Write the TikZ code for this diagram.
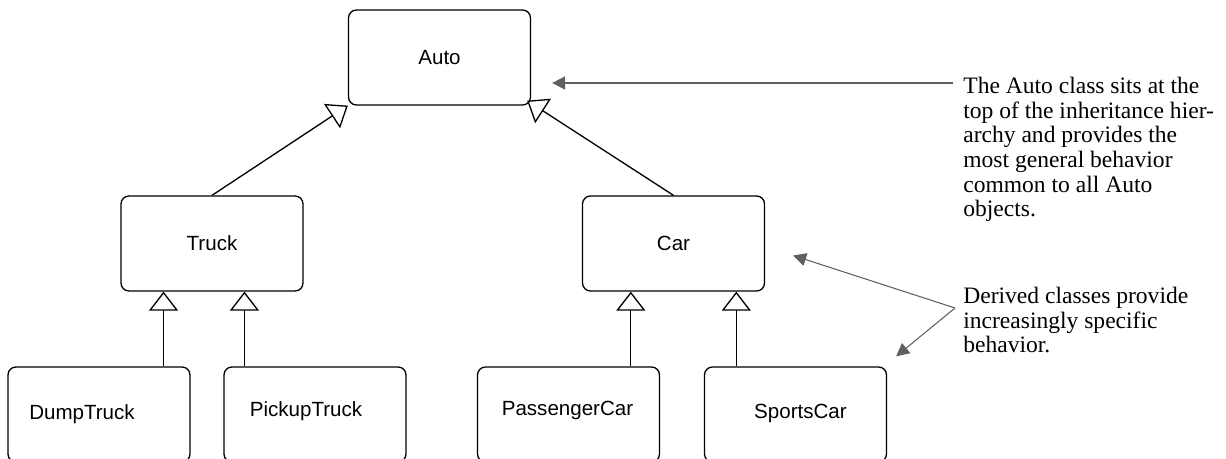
\documentclass[tikz,border=0pt]{standalone}
\usepackage{fontspec}
\setmainfont{Liberation Serif}
\setsansfont{Liberation Sans}
\usetikzlibrary{arrows.meta,calc}
\definecolor{notegray}{HTML}{606060}

\begin{document}
\begin{tikzpicture}[x=0.02cm,y=-0.02cm]
	
	% ------------------------------------------------------------
	% Styles (plain class boxes, hollow inheritance tips, gray notes)
	% ------------------------------------------------------------
	\tikzset{
		cls/.style={draw=black,line width=0.75pt,rounded corners=4.5pt,
			minimum width=3.64cm,minimum height=1.9cm,inner sep=0pt,
			font=\sffamily\fontsize{11.7}{14}\selectfont},
		clsname/.style={inner sep=0pt,font=\sffamily\fontsize{11.7}{14}\selectfont},
		isa/.style={-{Triangle[open,length=0.38cm,width=0.58cm]},line width=0.75pt},
		note/.style={align=left,inner sep=0pt,anchor=north west,
			font=\rmfamily\fontsize{13.4}{14}\selectfont},
		pointer/.style={-{Triangle[length=0.26cm,width=0.26cm]},color=notegray,line width=1pt},
		thinpointer/.style={pointer,line width=0.6pt}
	}
	
	% Picture frame (bottom row runs off the page)
	\useasboundingbox (0,0) rectangle (1226,459);
	\clip (0,0) rectangle (1226,459);
	
	% ============================================================
	% TOP: base class
	% ============================================================
	\node[cls] (auto) at (439.5,57.5) {Auto};
	
	% ============================================================
	% MIDDLE: Truck and Car
	% ============================================================
	\node[cls] (truck) at (212,243.5) {Truck};
	\node[cls] (car)   at (673.5,243.5) {Car};
	
	\draw[isa] (truck.north) -- (auto.south west);
	\draw[isa] (car.north) -- ($(auto.south east)+(-4,-5)$);
	
	% ============================================================
	% BOTTOM: leaf classes (labels sit a bit off centre)
	% ============================================================
	\node[cls] (dump)      at (99,414.5) {};
	\node[cls] (pickup)    at (315,414.5) {};
	\node[cls] (passenger) at (568.5,414.5) {};
	\node[cls] (sports)    at (795.5,414.5) {};
	
	\node[clsname] (dumpL)      at ($(dump)+(-17,0)$) {DumpTruck};
	\node[clsname] (pickupL)    at ($(pickup)+(-9,-3)$) {PickupTruck};
	\node[clsname] (passengerL) at ($(passenger)+(-1,-4)$) {PassengerCar};
	\node[clsname] (sportsL)    at ($(sports)+(5,-1)$) {SportsCar};
	
	% Where the inheritance lines leave the leaf boxes
	\coordinate (dumpTop)      at ($(dump.north west)!0.852!(dump.north east)$);
	\coordinate (pickupTop)    at ($(pickup.north west)!0.115!(pickup.north east)$);
	\coordinate (passengerTop) at ($(passenger.north west)!0.84!(passenger.north east)$);
	\coordinate (sportsTop)    at ($(sports.north west)!0.177!(sports.north east)$);
	
	\draw[isa] (dumpTop) -- (dumpTop |- truck.south);
	\draw[isa] (pickupTop) -- (pickupTop |- truck.south);
	\draw[isa] (passengerTop) -- (passengerTop |- car.south);
	\draw[isa] (sportsTop) -- (sportsTop |- car.south);
	
	% ============================================================
	% RIGHT: notes with gray pointers
	% ============================================================
	\node[note] (topNote) at (963,77)
	{The Auto class sits at the\\top of the inheritance hier-\\archy and provides the\\most general behavior\\common to all Auto\\objects.};
	
	\node[note] (derivedNote) at (963,287)
	{Derived classes provide\\increasingly specific\\behavior.};
	
	\coordinate (topTail) at ($(topNote.north west)+(-10,6)$);
	\coordinate (fork)    at ($(derivedNote.north west)+(-8,21)$);
	
	\draw[pointer] (topTail) -- ($(topTail -| auto.east)+(21,0)$);
	\draw[thinpointer] (fork) -- ($(car.east)+(28,12)$);
	\draw[thinpointer] (fork) -- ($(sports.north east)+(9,-10)$);
	
\end{tikzpicture}
\end{document}
